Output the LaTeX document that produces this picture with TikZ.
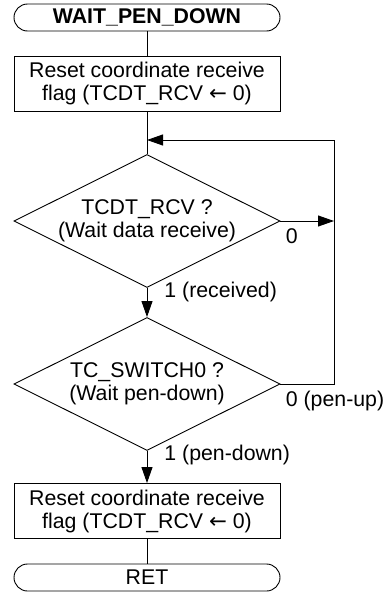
\documentclass[tikz,border=0pt]{standalone}
\usepackage{fontspec}
\setmainfont{Liberation Sans}
\newfontfamily\arrowfont{DejaVu Sans}
\usetikzlibrary{arrows.meta, shapes.geometric, positioning}

\begin{document}
\begin{tikzpicture}[x=1pt, y=-1pt, line width=0.9pt,
    every node/.style={font=\fontsize{21.3pt}{23pt}\selectfont},
    terminal/.style={draw, rectangle, rounded corners=13.5pt, minimum width=266pt, minimum height=27pt, inner sep=0pt},
    process/.style={draw, rectangle, align=center, minimum width=266pt, minimum height=55pt, inner sep=0pt},
    decision/.style={draw, diamond, aspect=2, align=center, minimum width=266pt, minimum height=133pt, inner sep=0pt},
    branch/.style={anchor=base west, inner sep=0pt},
    arrow/.style={-{Triangle[length=16pt, width=11pt]}}]
  \useasboundingbox (0,0) rectangle (389,592);

  \node (start) [terminal] at (147,17.5) {\textbf{WAIT\_PEN\_DOWN}};
  \node (reset1) [process] at (147,83.5) {Reset coordinate receive\\flag (TCDT\_RCV {\arrowfont ←} 0)};
  \node (dec1) [decision] at (147,221) {TCDT\_RCV ?\\(Wait data receive)};
  \node (dec2) [decision] at (147,384) {TC\_SWITCH0 ?\\(Wait pen-down)};
  \node (reset2) [process] at (147,511) {Reset coordinate receive\\flag (TCDT\_RCV {\arrowfont ←} 0)};
  \node (ret) [terminal] at (147,577.5) {RET};

  \coordinate (join) at (147,140);
  \coordinate (loop) at (334,140);

  % Branch labels
  \node (no1) [branch] at ([xshift=5pt, yshift=-22pt]dec1.east) {0};
  \node (no2) [branch] at ([xshift=5pt, yshift=-22pt]dec2.east) {0 (pen-up)};
  \node (yes1) [branch] at ([xshift=17pt, yshift=-10pt]dec1.south) {1 (received)};
  \node (yes2) [branch] at ([xshift=17pt, yshift=-10pt]dec2.south) {1 (pen-down)};

  % Vertical flow
  \draw (start) -- (reset1);
  \draw (reset1) -- (dec1);
  \draw[arrow] (dec1) -- (dec2);
  \draw[arrow] (dec2) -- (reset2);
  \draw (reset2) -- (ret);

  % Wait loop
  \draw[arrow] (dec1.east) -- (dec1.east -| loop);
  \draw[arrow] (dec2.east) -| (loop) -- (join);
\end{tikzpicture}
\end{document}
